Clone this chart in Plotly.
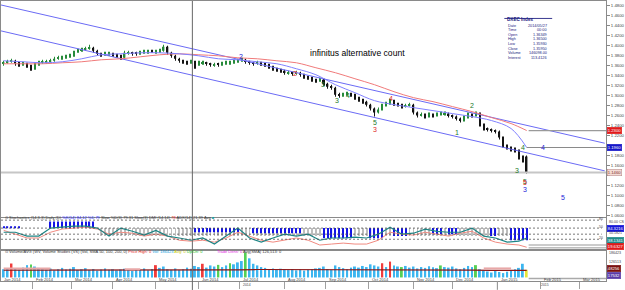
import pandas as pd
import plotly.graph_objects as go
from plotly.subplots import make_subplots

W, H = 625, 290
ML, MR, MT, MB = 0, 18, 0, 9
PW, PH = W - ML - MR, H - MT - MB
FONT = "Arial, Liberation Sans, sans-serif"

# ---------------- data ----------------
candle_dates = pd.bdate_range("2014-01-13", periods=135, freq="2B")

opens = [1.364,1.366,1.368,1.370,1.364,1.362,1.364,1.358,1.354,1.362,
         1.366,1.366,1.368,1.370,1.374,1.374,1.376,1.378,1.380,1.388,
         1.390,1.392,1.394,1.396,1.390,1.384,1.382,1.382,1.384,1.382,
         1.380,1.376,1.384,1.386,1.386,1.384,1.386,1.386,1.390,1.386,
         1.388,1.390,1.398,1.386,1.380,1.374,1.370,1.368,1.366,1.368,
         1.362,1.364,1.366,1.364,1.360,1.364,1.362,1.364,1.364,1.366,
         1.368,1.370,1.372,1.368,1.366,1.364,1.366,1.364,1.362,1.358,
         1.354,1.352,1.350,1.344,1.346,1.344,1.346,1.342,1.338,1.336,
         1.332,1.330,1.332,1.324,1.318,1.316,1.302,1.300,1.302,1.304,
         1.302,1.296,1.292,1.288,1.282,1.274,1.266,1.272,1.280,1.284,
         1.290,1.284,1.282,1.278,1.280,1.282,1.266,1.260,1.262,1.258,
         1.262,1.260,1.262,1.262,1.264,1.260,1.258,1.254,1.250,1.256,
         1.262,1.260,1.264,1.242,1.234,1.232,1.230,1.228,1.216,1.200,
         1.196,1.192,1.190,1.176,1.178]
highs = [1.370,1.372,1.374,1.372,1.368,1.368,1.366,1.362,1.366,1.370,
         1.372,1.372,1.374,1.378,1.380,1.380,1.382,1.384,1.390,1.394,
         1.396,1.398,1.402,1.398,1.392,1.386,1.388,1.388,1.386,1.384,
         1.382,1.390,1.390,1.388,1.388,1.390,1.392,1.392,1.392,1.392,
         1.394,1.402,1.400,1.388,1.382,1.376,1.372,1.370,1.372,1.370,
         1.370,1.370,1.368,1.366,1.366,1.366,1.368,1.370,1.370,1.372,
         1.374,1.376,1.374,1.370,1.368,1.370,1.368,1.366,1.364,1.360,
         1.356,1.354,1.352,1.350,1.348,1.350,1.348,1.344,1.340,1.338,
         1.334,1.336,1.334,1.326,1.322,1.318,1.306,1.306,1.308,1.306,
         1.304,1.298,1.294,1.290,1.284,1.276,1.276,1.284,1.288,1.294,
         1.292,1.286,1.284,1.284,1.286,1.284,1.268,1.266,1.264,1.266,
         1.264,1.266,1.268,1.268,1.266,1.262,1.260,1.256,1.260,1.266,
         1.264,1.268,1.266,1.244,1.236,1.234,1.232,1.230,1.218,1.202,
         1.198,1.196,1.192,1.180,1.180]
lows = [1.360,1.364,1.366,1.360,1.358,1.360,1.356,1.350,1.352,1.360,
        1.364,1.364,1.366,1.368,1.372,1.372,1.374,1.376,1.378,1.386,
        1.388,1.390,1.392,1.386,1.380,1.378,1.380,1.380,1.378,1.376,
        1.372,1.374,1.382,1.380,1.380,1.382,1.384,1.384,1.386,1.384,
        1.386,1.388,1.382,1.376,1.370,1.366,1.364,1.362,1.364,1.354,
        1.360,1.362,1.360,1.358,1.358,1.358,1.360,1.362,1.362,1.364,
        1.366,1.368,1.364,1.362,1.360,1.362,1.360,1.358,1.354,1.350,
        1.348,1.346,1.342,1.342,1.340,1.342,1.338,1.334,1.332,1.328,
        1.326,1.328,1.320,1.314,1.312,1.298,1.296,1.298,1.300,1.298,
        1.292,1.288,1.284,1.278,1.270,1.258,1.264,1.270,1.278,1.282,
        1.280,1.278,1.274,1.276,1.278,1.262,1.256,1.258,1.254,1.256,
        1.256,1.258,1.260,1.260,1.256,1.254,1.250,1.246,1.248,1.254,
        1.256,1.258,1.238,1.230,1.228,1.226,1.224,1.212,1.196,1.192,
        1.188,1.186,1.172,1.166,1.144]
closes = [1.366,1.368,1.370,1.364,1.362,1.364,1.358,1.354,1.362,1.366,
          1.368,1.368,1.370,1.374,1.376,1.376,1.378,1.380,1.388,1.390,
          1.392,1.394,1.396,1.390,1.384,1.382,1.384,1.384,1.382,1.380,
          1.376,1.386,1.386,1.384,1.384,1.386,1.388,1.388,1.388,1.388,
          1.390,1.398,1.386,1.380,1.374,1.370,1.368,1.366,1.368,1.362,
          1.366,1.366,1.364,1.362,1.362,1.362,1.364,1.366,1.366,1.368,
          1.370,1.372,1.368,1.366,1.364,1.366,1.364,1.362,1.358,1.354,
          1.352,1.350,1.346,1.346,1.344,1.346,1.342,1.338,1.336,1.332,
          1.330,1.332,1.324,1.318,1.316,1.302,1.300,1.302,1.304,1.302,
          1.296,1.292,1.288,1.282,1.274,1.266,1.272,1.280,1.284,1.290,
          1.284,1.282,1.278,1.280,1.282,1.266,1.260,1.262,1.258,1.262,
          1.260,1.262,1.264,1.264,1.260,1.258,1.254,1.250,1.256,1.262,
          1.260,1.264,1.242,1.234,1.232,1.230,1.228,1.216,1.200,1.196,
          1.192,1.190,1.176,1.170,1.146]

ma_dates = [candle_dates[j] for j in list(range(0, 135, 5)) + [134]]
ma_slow = [1.364,1.364,1.364,1.366,1.368,1.372,1.374,1.378,1.382,1.384,
           1.382,1.380,1.376,1.374,1.370,1.366,1.356,1.346,1.334,1.322,
           1.308,1.296,1.288,1.278,1.268,1.256,1.244,1.230]
ma_fast = [1.370,1.368,1.366,1.368,1.374,1.382,1.384,1.386,1.386,1.384,
           1.380,1.374,1.372,1.368,1.364,1.354,1.342,1.322,1.306,1.290,
           1.282,1.276,1.270,1.264,1.258,1.250,1.234,1.196]

chan_dates = ["2014-01-09", "2015-03-19"]
chan_upper = [1.4826, 1.2045]
chan_lower = [1.4306, 1.1490]

price_ticks = [1.48,1.46,1.44,1.42,1.40,1.38,1.36,1.34,1.32,1.30,1.28,
               1.26,1.24,1.22,1.20,1.18,1.16,1.14,1.12,1.10,1.08,1.06]

osc_dates = [candle_dates[j] for j in list(range(0, 135, 3)) + [134]]
osc_k = [56,56,44,44,69,72,75,75,69,44,69,59,47,62,44,38,31,38,19,44,69,38,25,
         38,50,44,50,31,38,38,41,38,50,72,50,53,66,59,56,56,69,44,38,25,28,38]
osc_d = [62,50,38,38,56,66,69,72,66,50,56,53,44,50,44,31,28,31,25,38,56,44,31,
         25,31,38,31,16,19,22,19,19,31,56,50,47,56,50,44,53,59,38,25,19,16,9]
osc_levels = [94, 69, 50, 34]
osc_blue_spans = [("2014-01-13","2014-01-23",69,75), ("2014-02-14","2014-03-18",69,90),
                  ("2014-05-29","2014-06-30",56,69), ("2014-07-10","2014-08-13",53,69),
                  ("2014-08-29","2014-09-18",37,69), ("2014-10-02","2014-10-10",37,69),
                  ("2014-10-20","2014-10-28",44,69), ("2014-11-17","2014-11-21",50,69),
                  ("2014-11-27","2014-12-03",50,69), ("2014-12-29","2014-12-31",44,69),
                  ("2015-01-12","2015-01-22",31,69)]
osc_hatch_span = ("2014-03-24", "2015-01-22", 44, 69)

volumes = [30,34,51,32,28,36,45,47,40,35, 30,28,33,26,30,35,29,32,38,27,
           30,34,27,31,25,29,33,28,30,26, 29,32,27,24,30,28,33,26,31,45,
           35,40,30,28,33,27,30,36,32,42, 38,50,36,44,40,46,38,44,52,48,
           55,60,91,70,50,44,38,35,30,33, 28,32,30,27,31,26,29,25,28,30,
           33,35,40,31,28,44,38,34,30,36, 40,36,42,38,48,44,40,52,38,58,
           44,40,38,42,36,40,33,38,35,41, 37,34,44,38,36,40,33,30,35,42,
           38,45,30,26,22,18,24,20,16,21, 25,30,35,50,28]
vol_codes = ("bbrbbbbgbb" "bbbbbbbbbb" "bbbbbbbbbb" "bbbbbbbbbr" "bbbbbbbbbb"
             "brbbbgbbgb" "bbgbbbbbbb" "bbbbbbbbbb" "bbbbbbbbbb" "bbbbbbbrbr"
             "bbgbbbbbbb" "bbgbbbbbbb" "bgbbbbbbbb" "bbbby")
vol_avg = [27,27,26,26,26,26,26,26,26,26,26,27,28,29,29,28,27,27,27,27,27,27,27,27,27,26,26,26]
vol_pink_spans = [("2014-01-13","2014-02-14",33), ("2014-04-08","2014-04-22",30),
                  ("2014-12-22","2015-01-12",33)]

wave_labels = [("2","b",241,50),("2","r",295,67),("3","g",323,78),("4","g",348,89),
               ("3","g",337,100),("5","g",375,122),("3","r",375,129),("4","r",391,92),
               ("1","g",462,132),("2","g",477,105),("3","g",522,170),("4","g",528,147),
               ("4","b",548,147),("5","g",530,181),("5","r",530,188),("3","b",530,195),
               ("5","b",568,203)]

table_title = "DXEC Index"
table_labels = ["Date","Time","Open","High","Low","Close","Volume","Interest"]
table_values = ["2014/05/27","00:00","1.36349","1.36500","1.35930","1.35950","146098.00","113.4126"]

last_close, last_slow, last_fast = 1.146, 1.230, 1.196

# ---------------- helpers ----------------
all_days = pd.bdate_range("2014-01-01", "2015-04-30")
day_pos = {d: i for i, d in enumerate(all_days)}


def xpos(dates):
    return [day_pos[pd.Timestamp(d)] for d in dates]


def px(x):
    return x / PW


def py(y):
    return 1 - y / PH


cx = xpos(candle_dates)
XR = [6.64, 316.64]

fig = make_subplots(rows=3, cols=1, shared_xaxes=True, vertical_spacing=0)

# ---- main panel ----
fig.add_trace(go.Scatter(x=xpos(chan_dates), y=chan_upper, mode="lines",
                         line=dict(color="#6b6bf5", width=1), hoverinfo="skip"), 1, 1)
fig.add_trace(go.Scatter(x=xpos(chan_dates), y=chan_lower, mode="lines",
                         line=dict(color="#6b6bf5", width=1), hoverinfo="skip"), 1, 1)
fig.add_trace(go.Scatter(x=xpos(ma_dates), y=ma_slow, mode="lines", line_shape="spline",
                         line=dict(color="#f07a7a", width=1), hoverinfo="skip"), 1, 1)
fig.add_trace(go.Scatter(x=xpos(ma_dates), y=ma_fast, mode="lines", line_shape="spline",
                         line=dict(color="#8080ff", width=1), hoverinfo="skip"), 1, 1)

# candles drawn as wick + body bars
up = [c >= o for o, c in zip(opens, closes)]
ccol = ["#268a3a" if u else "#141414" for u in up]
fig.add_trace(go.Bar(x=cx, y=[h - l for h, l in zip(highs, lows)], base=lows, width=0.3,
                     marker=dict(color=ccol, line_width=0), hoverinfo="skip"), 1, 1)
fig.add_trace(go.Bar(x=cx, y=[max(abs(c - o), 0.0012) for o, c in zip(opens, closes)],
                     base=[min(o, c) for o, c in zip(opens, closes)], width=0.75,
                     marker=dict(color=ccol, line_width=0), hoverinfo="skip"), 1, 1)

# ---- oscillator panel ----
def span_points(start, end):
    s, e = pd.Timestamp(start), pd.Timestamp(end)
    return [d for d in candle_dates if s <= d <= e]

hx = xpos(span_points(osc_hatch_span[0], osc_hatch_span[1]))
fig.add_trace(go.Bar(x=hx, y=[osc_hatch_span[3] - osc_hatch_span[2]] * len(hx),
                     base=[osc_hatch_span[2]] * len(hx), width=0.4,
                     marker=dict(color="#bdbdbd", line_width=0), hoverinfo="skip"), 2, 1)
bx, bb, bh = [], [], []
for s, e, lo, hi in osc_blue_spans:
    p = xpos(span_points(s, e))
    bx += p
    bb += [lo] * len(p)
    bh += [hi - lo] * len(p)
fig.add_trace(go.Bar(x=bx, y=bh, base=bb, width=0.6,
                     marker=dict(color="#1414e6", line_width=0), hoverinfo="skip"), 2, 1)
fig.add_trace(go.Scatter(x=xpos(osc_dates), y=osc_d, mode="lines",
                         line=dict(color="#f08a80", width=1), hoverinfo="skip"), 2, 1)
fig.add_trace(go.Scatter(x=xpos(osc_dates), y=osc_k, mode="lines",
                         line=dict(color="#1d8585", width=1.2), hoverinfo="skip"), 2, 1)

# ---- volume panel ----
cmap = {"b": "#3cb6f0", "r": "#f03c3c", "g": "#55d055", "y": "#e6e63a"}
fig.add_trace(go.Bar(x=cx, y=volumes, width=1.0,
                     marker=dict(color=[cmap[c] for c in vol_codes], line_width=0),
                     hoverinfo="skip"), 3, 1)
fig.add_trace(go.Scatter(x=xpos(ma_dates), y=vol_avg, mode="lines",
                         line=dict(color="#8b1414", width=1.2), hoverinfo="skip"), 3, 1)
for s, e, v in vol_pink_spans:
    p = xpos(span_points(s, e))
    fig.add_trace(go.Scatter(x=[p[0], p[-1]], y=[v, v], mode="lines",
                             line=dict(color="#e8a8a8", width=2), hoverinfo="skip"), 3, 1)

# ---------------- layout ----------------
fig.update_layout(width=W, height=H, margin=dict(l=ML, r=MR, t=MT, b=MB),
                  paper_bgcolor="white", plot_bgcolor="white", showlegend=False,
                  barmode="overlay", font=dict(family=FONT, size=5, color="#333"))
fig.update_xaxes(range=XR, showgrid=False, zeroline=False, showline=True, mirror=True,
                 linecolor="#8a8a8a", linewidth=1, rangeslider_visible=False)
mstarts = [d for j, d in enumerate(all_days) if j == 0 or d.month != all_days[j - 1].month]
mvals = xpos(mstarts)
mtext = [d.strftime("%b %Y") for d in mstarts]
fig.update_xaxes(row=3, col=1, tickvals=mvals, ticktext=[""] * len(mvals),
                 ticks="outside", ticklen=7, tickcolor="#a0a0a0")
hidden = {1.20, 1.14}
fig.update_layout(
    yaxis=dict(domain=[1 - 217 / PH, 1], range=[1.056, 1.490], side="right", tickvals=price_ticks,
               ticktext=["" if v in hidden else f"{v:.4f}" for v in price_ticks], ticks="outside",
               ticklen=3, tickcolor="#888", tickfont=dict(size=4.3, color="#444"), showgrid=False,
               zeroline=False, showline=True, mirror=True, linecolor="#8a8a8a"),
    yaxis2=dict(domain=[1 - 250 / PH, 1 - 218 / PH], range=[0, 100], showticklabels=False,
                showgrid=False, zeroline=False, showline=True, mirror=True, linecolor="#8a8a8a"),
    yaxis3=dict(domain=[0, 1 - 250 / PH], range=[-13, 100], showticklabels=False,
                showgrid=False, zeroline=False, showline=True, mirror=True, linecolor="#8a8a8a"),
)

shapes = []
shapes.append(dict(type="line", xref="paper", x0=0, x1=1, yref="y", y0=last_close, y1=last_close,
                   line=dict(color="#c6c6c6", width=2)))
shapes.append(dict(type="line", xref="x", x0=cx[-1] + 1, x1=XR[1], yref="y", y0=last_slow, y1=last_slow,
                   line=dict(color="#9a9a9a", width=1.2)))
shapes.append(dict(type="line", xref="x", x0=cx[-1], x1=XR[1], yref="y", y0=last_fast, y1=last_fast,
                   line=dict(color="#8a8a8a", width=1.2)))
for lv in osc_levels:
    shapes.append(dict(type="line", xref="paper", x0=0, x1=0.993, yref="y2", y0=lv, y1=lv,
                       line=dict(color="#555", width=0.8, dash="2px,2px")))
for lv in [16, 7]:
    shapes.append(dict(type="line", xref="x", x0=cx[-1] + 1, x1=XR[1], yref="y2", y0=lv, y1=lv,
                       line=dict(color="#999", width=1)))
shapes.append(dict(type="line", xref="x", x0=cx[-1] + 1, x1=XR[1], yref="y3", y0=-4, y1=-4,
                   line=dict(color="#aaa", width=1.5)))
shapes.append(dict(type="line", xref="paper", x0=px(192), x1=px(192), yref="paper", y0=-MB / PH, y1=1,
                   line=dict(color="#666", width=1)))
shapes.append(dict(type="line", xref="paper", x0=px(498), x1=px(498), yref="paper", y0=-MB / PH, y1=0,
                   line=dict(color="#999", width=1)))
shapes.append(dict(type="line", xref="paper", x0=px(505), x1=px(553), yref="paper", y0=py(17.5), y1=py(17.5),
                   line=dict(color="#3a3a90", width=1)))
fig.update_layout(shapes=shapes)

ann = []
ann.append(dict(text="infinitus alternative count", xref="paper", yref="paper", x=px(407), y=py(45),
                showarrow=False, font=dict(size=8.6, color="#000", family=FONT)))
ann.append(dict(text="<b>" + table_title + "</b>", xref="paper", yref="paper", x=px(506), y=py(14.5),
                xanchor="left", showarrow=False, font=dict(size=4.6, color="#1c1c80")))
for j, (lab, val) in enumerate(zip(table_labels, table_values)):
    yy = py(20.7 + j * 4.6)
    ann.append(dict(text=lab, xref="paper", yref="paper", x=px(507), y=yy, xanchor="left",
                    showarrow=False, font=dict(size=3.8, color="#1c1c80")))
    ann.append(dict(text=val, xref="paper", yref="paper", x=px(550), y=yy, xanchor="right",
                    showarrow=False, font=dict(size=3.8, color="#1c1c80")))
colmap = {"g": "#217a2a", "r": "#e02828", "b": "#2424d8"}
for t, c, x, y in wave_labels:
    ann.append(dict(text=t, xref="paper", yref="paper", x=px(x), y=py(y), showarrow=False,
                    font=dict(size=7, color=colmap[c], family=FONT)))


def box(text, yref, y, bg, fg, border=None):
    return dict(text=text, xref="paper", x=1.0, xanchor="left", xshift=1, yref=yref, y=y,
                showarrow=False, bgcolor=bg, bordercolor=border or bg, borderwidth=0.5, borderpad=0.3,
                font=dict(size=4.2, color=fg))


ann.append(box("1.2300", "y", last_slow, "#e01a1a", "white"))
ann.append(box("1.1960", "y", last_fast, "#1616c8", "white"))
ann.append(box("1.1460", "y", last_close, "#f4dcd5", "#803030", "#b08080"))
ann.append(dict(text="80.00 CS", xref="paper", x=1.0, xanchor="left", xshift=1, yref="y2", y=88,
                showarrow=False, font=dict(size=3.6, color="#444")))
ann.append(box("84.3216", "y2", 69, "#1616d8", "white"))
ann.append(dict(text="50.1821", xref="paper", x=1.0, xanchor="left", xshift=1, yref="y2", y=53,
                showarrow=False, font=dict(size=3.6, color="#444")))
ann.append(box("38.1341", "y2", 30, "#1f8a8a", "white"))
ann.append(box("19.6327", "y2", 12, "#e01a1a", "white"))
ann.append(dict(text="186423", xref="paper", x=1.0, xanchor="left", xshift=1, yref="y3", y=90,
                showarrow=False, font=dict(size=3.6, color="#444")))
ann.append(dict(text="126513", xref="paper", x=1.0, xanchor="left", xshift=1, yref="y3", y=58,
                showarrow=False, font=dict(size=3.6, color="#444")))
ann.append(box("48256", "y3", 33, "#7a1010", "white"))
ann.append(box("17532", "y3", 6, "#5a3aa8", "white"))
for lab, lv in [("80", 94), ("50", 69), ("20", 34)]:
    ann.append(dict(text=lab, xref="paper", x=1.0, xanchor="right", xshift=-1, yref="y2", y=lv + 5,
                    showarrow=False, font=dict(size=3.4, color="#444")))
ann.append(dict(xref="paper", yref="paper", x=px(2), y=py(221.5), xanchor="left", showarrow=False,
                font=dict(size=4, color="#333"),
                text="⊙ Stochastics (14,3,3) Daily (D) <span style='color:#2020ff'>%K(14) 84.12 %D 79</span>"
                     " Slow %D(3) 79.31 Slow(3) DMI (14,14) <span style='color:#e02020'>78</span>"
                     " ADX(14) 21.39 Avg <span style='color:#20a0a0'>■</span>"))
ann.append(dict(xref="paper", yref="paper", x=px(2), y=py(256), xanchor="left", showarrow=False,
                font=dict(size=4, color="#333"),
                text="⊙ Volume/AVG (WV, Volume Studies (VS) (Vol, SMA 50, 100, 200, 0)"
                     " <span style='color:#e02020'>Price High: 0</span>"
                     " <span style='color:#20a0e0'>Vol: 186423</span>"
                     " <span style='color:#c8c800'>Avg: 0</span>"
                     " <span style='color:#20c020'>Up/Dn: 0</span>"
                     "             <span style='color:#e020e0'>Trade Dens: 0</span>"
                     " Avg(SMA) 126,513: 0"))
# month labels (left-aligned just right of each month tick)
for v, t in zip(mvals, mtext):
    if XR[0] <= v <= XR[1] - 6:
        ann.append(dict(text=t, xref="x3", yref="paper", x=v, xshift=1.5, y=py(283.8), xanchor="left",
                        showarrow=False, font=dict(size=4.0, color="#444")))
ann.append(dict(text="Jan 2014", xref="paper", yref="paper", x=px(1), y=py(283.8), xanchor="left",
                showarrow=False, font=dict(size=4.0, color="#444")))
ann.append(dict(text="2014", xref="paper", yref="paper", x=px(247), y=py(289.5),
                showarrow=False, font=dict(size=3.4, color="#444")))
ann.append(dict(text="2015", xref="paper", yref="paper", x=px(552), y=py(289.5),
                showarrow=False, font=dict(size=3.4, color="#444")))
fig.update_layout(annotations=ann)

fig.write_html("out.html")
